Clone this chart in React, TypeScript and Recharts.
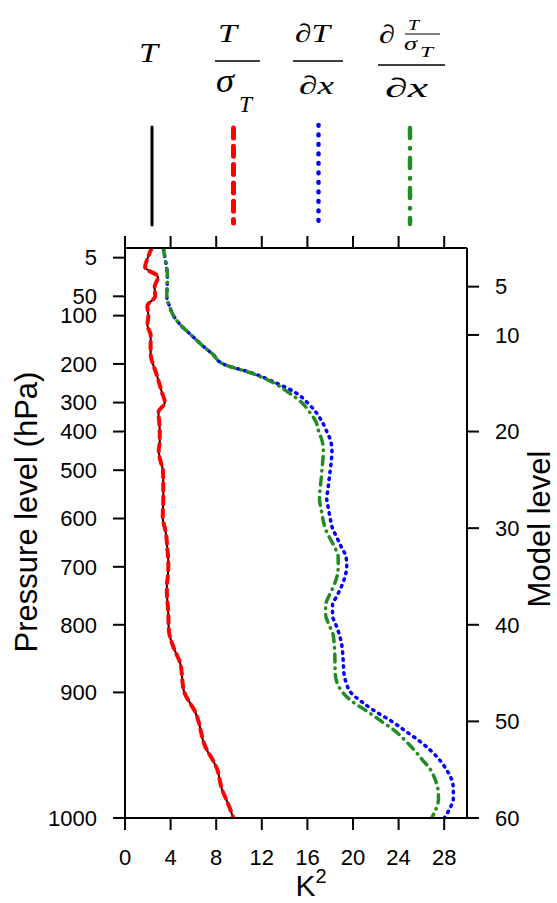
import React from 'react';
import { LineChart, Line, XAxis, YAxis } from 'recharts';

const levels = [
  1, 2, 3, 4, 5, 6, 7, 8, 9, 10,
  11, 12, 13, 14, 15, 16, 17, 18, 19, 20,
  21, 22, 23, 24, 25, 26, 27, 28, 29, 30,
  31, 32, 33, 34, 35, 36, 37, 38, 39, 40,
  41, 42, 43, 44, 45, 46, 47, 48, 49, 50,
  51, 52, 53, 54, 55, 56, 57, 58, 59, 60,
];

const tValues = [
  2.34, 2.0, 1.76, 2.9, 2.6, 2.65, 1.96, 2.05, 1.96, 2.25,
  2.25, 2.25, 2.45, 2.75, 3.0, 3.25, 3.5, 2.93, 3.0, 3.05,
  3.05, 2.96, 3.1, 3.33, 3.35, 3.36, 3.36, 3.33, 3.31, 3.5,
  3.64, 3.7, 3.78, 3.8, 3.75, 3.67, 3.68, 3.75, 3.8, 3.82,
  3.9, 4.15, 4.5, 4.85, 4.98, 5.05, 5.2, 5.65, 6.15, 6.45,
  6.65, 6.85, 7.2, 7.7, 8.1, 8.3, 8.5, 8.85, 9.2, 9.5,
];

const tNormValues = [
  2.34, 2.0, 1.76, 2.9, 2.6, 2.65, 1.96, 2.05, 1.96, 2.25,
  2.25, 2.25, 2.45, 2.75, 3.0, 3.25, 3.5, 2.93, 3.0, 3.05,
  3.05, 2.96, 3.1, 3.33, 3.35, 3.36, 3.36, 3.33, 3.31, 3.5,
  3.64, 3.7, 3.78, 3.8, 3.75, 3.67, 3.68, 3.75, 3.8, 3.82,
  3.9, 4.15, 4.5, 4.85, 4.98, 5.05, 5.2, 5.65, 6.15, 6.45,
  6.65, 6.85, 7.2, 7.7, 8.1, 8.3, 8.5, 8.85, 9.2, 9.5,
];

const dTdxValues = [
  3.4, 3.5, 3.65, 3.72, 3.7, 3.66, 3.9, 4.25, 4.9, 5.8,
  6.7, 7.7, 8.6, 11.3, 13.3, 15.0, 16.0, 16.75, 17.3, 17.7,
  18.05, 18.15, 18.1, 18.0, 17.9, 17.8, 17.7, 17.85, 18.0, 18.2,
  18.6, 19.0, 19.4, 19.45, 19.3, 19.0, 18.6, 18.2, 18.2, 18.5,
  18.8, 19.0, 19.1, 19.15, 19.2, 19.4, 19.8, 20.8, 22.0, 23.4,
  24.6, 25.8, 26.8, 27.6, 28.2, 28.65, 28.8, 28.8, 28.5, 28.0,
];

const dTNormdxValues = [
  3.35, 3.5, 3.65, 3.72, 3.7, 3.66, 3.9, 4.25, 4.9, 5.8,
  6.7, 7.7, 8.6, 11.2, 13.1, 14.4, 15.5, 16.2, 16.75, 17.0,
  17.3, 17.4, 17.35, 17.27, 17.2, 17.1, 17.06, 17.2, 17.35, 17.56,
  17.95, 18.4, 18.7, 18.7, 18.6, 18.3, 17.9, 17.6, 17.6, 17.9,
  18.25, 18.35, 18.4, 18.42, 18.44, 18.6, 19.1, 20.0, 21.3, 22.5,
  23.7, 24.6, 25.4, 26.1, 26.8, 27.2, 27.45, 27.5, 27.3, 26.9,
];

const kTicks = [0, 4, 8, 12, 16, 20, 24, 28];
const pressureTickLevels = [2, 6, 8, 13, 17, 20, 24, 29, 34, 40, 47, 60];
const pressureTickLabels = ['5', '50', '100', '200', '300', '400', '500', '600', '700', '800', '900', '1000'];
const modelLevelTicks = [5, 10, 20, 30, 40, 50, 60];

const data = levels.map((level, i) => ({
  level,
  t: tValues[i],
  tn: tNormValues[i],
  dt: dTdxValues[i],
  dtn: dTNormdxValues[i],
}));

const SANS = 'Liberation Sans, Arial, sans-serif';
const SERIF = 'Liberation Serif, Times New Roman, serif';
const axisStroke = { stroke: '#000', strokeWidth: 2 };
const tickStyle = { fill: '#000', fontSize: 22, fontFamily: SANS };

const RED = '#FF0000';
const BLUE = '#0000FF';
const GREEN = '#228B22';

function M(props: { x: number; y: number; size: number; w: number; children: React.ReactNode }) {
  return (
    <text
      x={props.x}
      y={props.y}
      fontSize={props.size}
      fontFamily={SERIF}
      fontStyle="italic"
      fill="#000"
      textLength={props.w}
      lengthAdjust="spacingAndGlyphs"
    >
      {props.children}
    </text>
  );
}

function Overlay() {
  return (
    <svg
      width={557}
      height={903}
      style={{ position: 'absolute', left: 0, top: 0, pointerEvents: 'none' }}
    >
      {/* Legend labels */}
      <M x={139} y={62} size={28} w={19}>T</M>

      <M x={218} y={42} size={26} w={19}>T</M>
      <line x1={215} x2={260} y1={61} y2={61} stroke="#000" strokeWidth={1.4} />
      <M x={216} y={92} size={33} w={18}>σ</M>
      <M x={239} y={112} size={23} w={13}>T</M>

      <M x={295} y={42} size={26} w={35}>∂T</M>
      <line x1={293} x2={343} y1={61} y2={61} stroke="#000" strokeWidth={1.4} />
      <M x={299} y={94} size={26} w={35}>∂x</M>

      <M x={379} y={43} size={26} w={16}>∂</M>
      <M x={408} y={30} size={14} w={11}>T</M>
      <line x1={405} x2={440} y1={34} y2={34} stroke="#000" strokeWidth={1.1} />
      <M x={404} y={50} size={19} w={13}>σ</M>
      <M x={420} y={57} size={15} w={13}>T</M>
      <line x1={378} x2={445} y1={65} y2={65} stroke="#000" strokeWidth={1.4} />
      <M x={385} y={97} size={27} w={43}>∂x</M>

      {/* Legend line samples */}
      <line x1={152} x2={152} y1={127} y2={225} stroke="#000" strokeWidth={3} strokeLinecap="round" />
      <line x1={233.5} x2={233.5} y1={128} y2={223} stroke={RED} strokeWidth={5} strokeLinecap="round" strokeDasharray="10 8.3" />
      <line x1={318.5} x2={318.5} y1={125} y2={221} stroke={BLUE} strokeWidth={4.5} strokeLinecap="round" strokeDasharray="0.8 8.7" />
      <line x1={410} x2={410} y1={128} y2={224} stroke={GREEN} strokeWidth={4.5} strokeLinecap="round" strokeDasharray="10 10 0.5 9.5" />

      {/* Axis titles */}
      <text
        x={37}
        y={512}
        transform="rotate(-90 37 512)"
        textAnchor="middle"
        fontSize={31}
        fontFamily={SANS}
        fill="#000"
      >
        Pressure level (hPa)
      </text>
      <text
        x={550}
        y={529}
        transform="rotate(-90 550 529)"
        textAnchor="middle"
        fontSize={31}
        fontFamily={SANS}
        fill="#000"
      >
        Model level
      </text>
      <text x={311} y={896} textAnchor="middle" fontSize={30} fontFamily={SANS} fill="#000">
        K<tspan dy={-13} fontSize={20}>2</tspan>
      </text>
    </svg>
  );
}

export default function App() {
  return (
    <div style={{ position: 'absolute', left: 0, top: 0, width: 557, height: 903, background: '#fff' }}>
      <LineChart
        width={557}
        height={903}
        data={data}
        layout="vertical"
        margin={{ top: 228, right: 30, bottom: 55, left: 65 }}
      >
        <XAxis
          xAxisId="bottom"
          type="number"
          orientation="bottom"
          domain={[0, 30]}
          ticks={kTicks}
          interval={0}
          height={30}
          tickSize={12}
          tickMargin={19}
          axisLine={axisStroke}
          tickLine={axisStroke}
          tick={tickStyle}
          allowDataOverflow
        />
        <XAxis
          xAxisId="top"
          type="number"
          orientation="top"
          domain={[0, 30]}
          ticks={kTicks}
          interval={0}
          height={20}
          tickSize={12}
          axisLine={axisStroke}
          tickLine={axisStroke}
          tick={tickStyle}
          tickFormatter={() => ''}
          allowDataOverflow
        />
        <YAxis
          yAxisId="left"
          type="number"
          dataKey="level"
          orientation="left"
          domain={[1, 60]}
          ticks={pressureTickLevels}
          interval={0}
          width={60}
          tickSize={12}
          tickMargin={16}
          axisLine={axisStroke}
          tickLine={axisStroke}
          tick={tickStyle}
          tickFormatter={(v: number) => pressureTickLabels[pressureTickLevels.indexOf(v)] ?? ''}
          allowDataOverflow
        />
        <YAxis
          yAxisId="right"
          type="number"
          dataKey="level"
          orientation="right"
          domain={[1, 60]}
          ticks={modelLevelTicks}
          interval={0}
          width={60}
          tickSize={12}
          tickMargin={16}
          axisLine={axisStroke}
          tickLine={axisStroke}
          tick={tickStyle}
          allowDataOverflow
        />
        <Line
          xAxisId="bottom"
          yAxisId="left"
          dataKey="t"
          type="monotoneY"
          stroke="#000"
          strokeWidth={2}
          dot={false}
          activeDot={false}
          isAnimationActive={false}
        />
        <Line
          xAxisId="bottom"
          yAxisId="left"
          dataKey="tn"
          type="monotoneY"
          stroke={RED}
          strokeWidth={4}
          strokeLinecap="round"
          strokeDasharray="7.5 5.8"
          dot={false}
          activeDot={false}
          isAnimationActive={false}
        />
        <Line
          xAxisId="bottom"
          yAxisId="left"
          dataKey="dt"
          type="monotoneY"
          stroke={BLUE}
          strokeWidth={3.5}
          strokeLinecap="round"
          strokeDasharray="1.5 5.5"
          dot={false}
          activeDot={false}
          isAnimationActive={false}
        />
        <Line
          xAxisId="bottom"
          yAxisId="left"
          dataKey="dtn"
          type="monotoneY"
          stroke={GREEN}
          strokeWidth={3.5}
          strokeLinecap="round"
          strokeDasharray="8 6 0.5 6"
          dot={false}
          activeDot={false}
          isAnimationActive={false}
        />
      </LineChart>
      <Overlay />
    </div>
  );
}
